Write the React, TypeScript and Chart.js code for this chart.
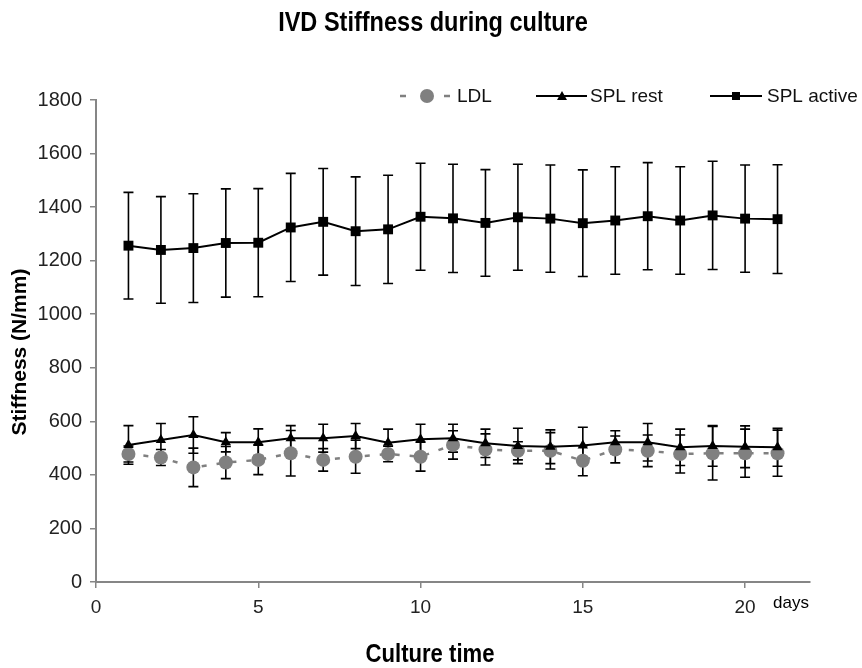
import React, { useEffect, useRef } from "react";
import { Chart, registerables } from "chart.js";

Chart.register(...registerables);

const days = [1, 2, 3, 4, 5, 6, 7, 8, 9, 10, 11, 12, 13, 14, 15, 16, 17, 18, 19, 20, 21];
const xTicks = [0, 5, 10, 15, 20];

const ldlMean = [478, 465, 428, 446, 456, 481, 456, 468, 478, 468, 512, 495, 490, 490, 453, 495, 490, 478, 481, 481, 481];
const ldlSD = [30, 30, 72, 60, 55, 85, 42, 62, 29, 54, 53, 58, 34, 68, 56, 50, 59, 71, 100, 90, 86];

const restMean = [512, 530, 549, 522, 522, 537, 537, 545, 520, 533, 537, 518, 508, 505, 510, 522, 522, 503, 508, 505, 503];
const restSD = [72, 62, 68, 36, 50, 47, 52, 47, 51, 56, 52, 53, 66, 63, 68, 43, 70, 68, 76, 78, 71];

const activeMean = [1256, 1240, 1247, 1266, 1267, 1324, 1345, 1310, 1317, 1364, 1358, 1341, 1362, 1357, 1340, 1350, 1366, 1350, 1369, 1357, 1355];
const activeSD = [199, 199, 203, 202, 202, 202, 199, 203, 202, 200, 202, 199, 198, 200, 199, 201, 200, 201, 202, 200, 203];

const sdByDataset = [ldlSD, restSD, activeSD];

const SANS = '"Liberation Sans", Arial, sans-serif';

const errorBars = {
  id: "errorBars",
  beforeDatasetsDraw(chart: any) {
    const ctx = chart.ctx;
    const yScale = chart.scales.y;
    ctx.save();
    ctx.strokeStyle = "#000";
    ctx.lineWidth = 1.6;
    chart.data.datasets.forEach((ds: any, i: number) => {
      const sd = sdByDataset[i];
      const meta = chart.getDatasetMeta(i);
      meta.data.forEach((el: any, j: number) => {
        const v = ds.data[j].y;
        const yTop = yScale.getPixelForValue(v + sd[j]);
        const yBot = yScale.getPixelForValue(v - sd[j]);
        const x = el.x;
        ctx.beginPath();
        ctx.moveTo(x, yTop);
        ctx.lineTo(x, yBot);
        ctx.moveTo(x - 5, yTop);
        ctx.lineTo(x + 5, yTop);
        ctx.moveTo(x - 5, yBot);
        ctx.lineTo(x + 5, yBot);
        ctx.stroke();
      });
    });
    ctx.restore();
  },
};

function narrowText(ctx: any, text: string, x: number, y: number, font: string, sx: number) {
  ctx.save();
  ctx.translate(x, y);
  ctx.scale(sx, 1);
  ctx.font = font;
  ctx.textAlign = "center";
  ctx.textBaseline = "middle";
  ctx.fillText(text, 0, 0);
  ctx.restore();
}

const decorations = {
  id: "decorations",
  afterDraw(chart: any) {
    const ctx = chart.ctx;
    ctx.save();
    ctx.fillStyle = "#000";
    // Title
    narrowText(ctx, "IVD Stiffness during culture", 433, 23, `bold 28px ${SANS}`, 0.84);
    // X title
    narrowText(ctx, "Culture time", 430, 655, `bold 26px ${SANS}`, 0.85);
    // days
    ctx.font = `17px ${SANS}`;
    ctx.textAlign = "left";
    ctx.textBaseline = "middle";
    ctx.fillText("days", 773, 603);
    // Y title
    ctx.save();
    ctx.translate(20, 352);
    ctx.rotate(-Math.PI / 2);
    ctx.textAlign = "center";
    ctx.textBaseline = "middle";
    ctx.font = `bold 21px ${SANS}`;
    ctx.fillText("Stiffness (N/mm)", 0, 0);
    ctx.restore();

    // Legend
    const ly = 96;
    ctx.font = `19px ${SANS}`;
    ctx.textAlign = "left";
    ctx.textBaseline = "middle";
    // LDL
    ctx.strokeStyle = "#808080";
    ctx.lineWidth = 2.5;
    ctx.beginPath();
    ctx.moveTo(400, ly);
    ctx.lineTo(406, ly);
    ctx.moveTo(444, ly);
    ctx.lineTo(450, ly);
    ctx.stroke();
    ctx.fillStyle = "#808080";
    ctx.beginPath();
    ctx.arc(427, ly, 7, 0, Math.PI * 2);
    ctx.fill();
    ctx.fillStyle = "#111";
    ctx.fillText("LDL", 457, ly + 1);
    // SPL rest
    ctx.strokeStyle = "#000";
    ctx.lineWidth = 2;
    ctx.beginPath();
    ctx.moveTo(536, ly);
    ctx.lineTo(587, ly);
    ctx.stroke();
    ctx.fillStyle = "#000";
    ctx.beginPath();
    ctx.moveTo(562, ly - 5);
    ctx.lineTo(567, ly + 4);
    ctx.lineTo(557, ly + 4);
    ctx.closePath();
    ctx.fill();
    ctx.fillStyle = "#111";
    ctx.fillText("SPL rest", 590, ly + 1);
    // SPL active
    ctx.beginPath();
    ctx.moveTo(710, ly);
    ctx.lineTo(762, ly);
    ctx.stroke();
    ctx.fillStyle = "#000";
    ctx.fillRect(732, ly - 4, 8, 8);
    ctx.fillStyle = "#111";
    ctx.fillText("SPL active", 767, ly + 1);
    ctx.restore();
  },
};

function toPoints(vals: number[]) {
  return days.map((d, i) => ({ x: d, y: vals[i] }));
}

export default function App() {
  const ref = useRef<HTMLCanvasElement | null>(null);
  useEffect(() => {
    if (!ref.current) return;
    const chart = new Chart(ref.current, {
      type: "line",
      data: {
        datasets: [
          {
            label: "LDL",
            data: toPoints(ldlMean),
            borderColor: "#808080",
            backgroundColor: "#808080",
            borderWidth: 2.5,
            borderDash: [5, 10],
            pointStyle: "circle",
            pointRadius: 7,
            pointBorderWidth: 0,
            order: 3,
          },
          {
            label: "SPL rest",
            data: toPoints(restMean),
            borderColor: "#000",
            backgroundColor: "#000",
            borderWidth: 2,
            pointStyle: "triangle",
            pointRadius: 6,
            pointBorderWidth: 0,
            order: 2,
          },
          {
            label: "SPL active",
            data: toPoints(activeMean),
            borderColor: "#000",
            backgroundColor: "#000",
            borderWidth: 2,
            pointStyle: "rect",
            pointRadius: 7,
            pointBorderWidth: 0,
            order: 1,
          },
        ],
      },
      options: {
        animation: false,
        responsive: false,
        devicePixelRatio: 1,
        layout: { padding: { left: 0, top: 100, right: 52, bottom: 0 } },
        plugins: { legend: { display: false }, title: { display: false }, tooltip: { enabled: false } },
        scales: {
          x: {
            type: "linear",
            min: 0,
            max: 22,
            afterBuildTicks: (scale: any) => {
              scale.ticks = xTicks.map((v) => ({ value: v }));
            },
            afterFit: (scale: any) => {
              scale.height = 86;
            },
            grid: { drawOnChartArea: false, drawTicks: true, tickLength: 6, color: "#868686", lineWidth: 1.5 },
            border: { color: "#868686", width: 2 },
            ticks: {
              color: "#222",
              font: { family: SANS, size: 19 },
              padding: 8,
              maxRotation: 0,
              callback: (v: any) => String(v),
            },
          },
          y: {
            type: "linear",
            min: 0,
            max: 1800,
            ticks: {
              stepSize: 200,
              color: "#222",
              font: { family: SANS, size: 20 },
              padding: 8,
              callback: (v: any) => String(v),
            },
            afterFit: (scale: any) => {
              scale.width = 96;
            },
            grid: { drawOnChartArea: false, drawTicks: true, tickLength: 6, color: "#868686", lineWidth: 1.5 },
            border: { color: "#868686", width: 2 },
          },
        },
      },
      plugins: [errorBars, decorations],
    } as any);
    return () => chart.destroy();
  }, []);
  return (
    <div style={{ position: "absolute", left: 0, top: 0, width: 862, height: 668, background: "#fff" }}>
      <canvas ref={ref} width={862} height={668} />
    </div>
  );
}
